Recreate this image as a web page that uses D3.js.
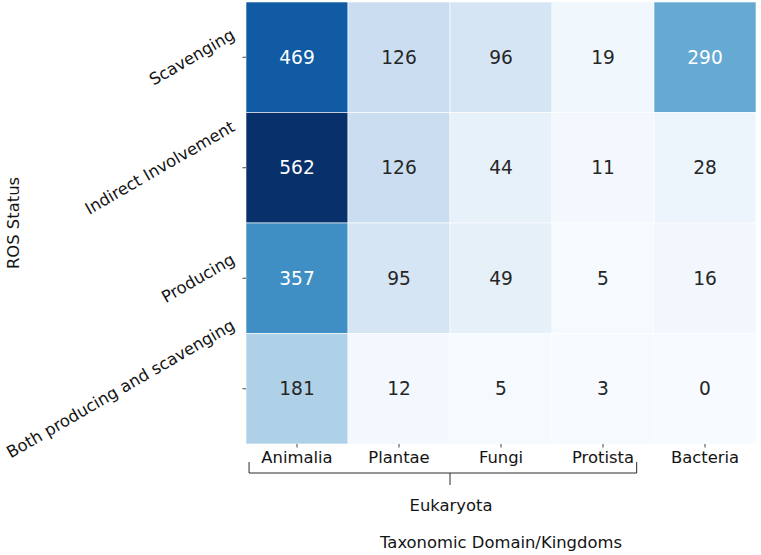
<!DOCTYPE html>
<html>
<head>
<meta charset="utf-8">
<script src="https://cdn.jsdelivr.net/npm/d3@7"></script>
<style>
  html, body { margin: 0; padding: 0; background: #fff; }
  svg { display: block; font-family: "DejaVu Sans", sans-serif; }
</style>
</head>
<body>
<svg id="chart" width="761" height="555"></svg>
<script>
// ---- data ----
const rowLabels = ["Scavenging", "Indirect Involvement", "Producing", "Both producing and scavenging"];
const colLabels = ["Animalia", "Plantae", "Fungi", "Protista", "Bacteria"];
const scavenging = [469, 126, 96, 19, 290];
const indirect   = [562, 126, 44, 11, 28];
const producing  = [357, 95, 49, 5, 16];
const both       = [181, 12, 5, 3, 0];
const seriesRows = [scavenging, indirect, producing, both];
const groupLabel = "Eukaryota";
const groupCols = ["Animalia", "Plantae", "Fungi", "Protista"];
const xTitle = "Taxonomic Domain/Kingdoms";
const yTitle = "ROS Status";

// ---- layout ----
const svg = d3.select("#chart");
const mLeft = 246, mRight = 756, mTop = 2, mBottom = 444;
const ink = "#141414";
const lfs = 16.4;

const x = d3.scaleBand().domain(colLabels).range([mLeft, mRight]).padding(0);
const y = d3.scaleBand().domain(rowLabels).range([mTop, mBottom]).padding(0);
const xLin = d3.scaleLinear().domain([0, colLabels.length]).range([mLeft, mRight]);

// matplotlib "Blues" (linear segments through ColorBrewer stops)
const bluesStops = ["#f7fbff", "#deebf7", "#c6dbef", "#9ecae1", "#6baed6", "#4292c6", "#2171b5", "#08519c", "#08306b"];
const vmax = d3.max(seriesRows.flat());
const color = d3.scaleLinear()
  .domain(bluesStops.map((_, i) => i / (bluesStops.length - 1) * vmax))
  .range(bluesStops)
  .interpolate(d3.interpolateRgb);

function relLum(c) {
  const rgb = d3.rgb(c);
  const f = v => { v /= 255; return v <= 0.03928 ? v / 12.92 : Math.pow((v + 0.055) / 1.055, 2.4); };
  return 0.2126 * f(rgb.r) + 0.7152 * f(rgb.g) + 0.0722 * f(rgb.b);
}

const cells = [];
seriesRows.forEach((vals, ri) => vals.forEach((v, ci) => cells.push({ row: rowLabels[ri], col: colLabels[ci], v })));

svg.append("g").selectAll("rect").data(cells).join("rect")
  .attr("x", d => x(d.col))
  .attr("y", d => y(d.row))
  .attr("width", x.bandwidth())
  .attr("height", y.bandwidth())
  .attr("fill", d => color(d.v))
  .attr("stroke", "#fff")
  .attr("stroke-width", 0.6);

svg.append("g").selectAll("text").data(cells).join("text")
  .attr("x", d => x(d.col) + x.bandwidth() / 2)
  .attr("y", d => y(d.row) + y.bandwidth() / 2)
  .attr("text-anchor", "middle")
  .attr("dominant-baseline", "central")
  .attr("font-size", 18.6)
  .attr("fill", d => relLum(color(d.v)) > 0.408 ? "#262626" : "#ffffff")
  .text(d => d.v);

// ---- x axis ----
const xAxis = svg.append("g").attr("transform", `translate(0,${mBottom})`)
  .call(d3.axisBottom(x).tickSize(3.5).tickPadding(4));
xAxis.select(".domain").remove();
xAxis.selectAll("line").attr("stroke", ink).attr("stroke-width", 0.8);
xAxis.selectAll("text").attr("font-size", lfs).attr("fill", ink).attr("font-family", "DejaVu Sans");

// ---- y axis ----
const yAxis = svg.append("g").attr("transform", `translate(${mLeft},0)`)
  .call(d3.axisLeft(y).tickSize(3.5).tickFormat(""));
yAxis.select(".domain").remove();
yAxis.selectAll("line").attr("stroke", ink).attr("stroke-width", 0.8);

const fh = lfs * 1.16, R = mLeft - 8;
rowLabels.forEach(lbl => {
  const t = svg.append("text")
    .attr("font-size", lfs)
    .attr("fill", ink)
    .attr("text-anchor", "end")
    .attr("dominant-baseline", "central")
    .text(lbl);
  const w = t.node().getComputedTextLength();
  const ax = R - fh / 4;
  const ay = y(lbl) + y.bandwidth() / 2 - 0.25 * w;
  t.attr("transform", `translate(${ax},${ay}) rotate(-30)`);
});

// ---- group bracket ----
const gi0 = colLabels.indexOf(groupCols[0]);
const gi1 = colLabels.indexOf(groupCols[groupCols.length - 1]) + 1;
const bx0 = xLin(gi0 + 0.03), bx1 = xLin(gi1 - 0.17), bmid = xLin(2);
const bTop = 462, bLine = 473, bTick = 485;
const br = svg.append("g").attr("stroke", ink).attr("stroke-width", 0.9).attr("fill", "none");
br.append("path").attr("d", `M${bx0},${bTop}V${bLine}H${bx1}V${bTop}`);
br.append("path").attr("d", `M${bmid},${bLine}V${bTick}`);
svg.append("text").attr("x", bmid + 1).attr("y", 511)
  .attr("text-anchor", "middle").attr("font-size", lfs).attr("fill", ink).text(groupLabel);

// ---- titles ----
svg.append("text").attr("x", (mLeft + mRight) / 2).attr("y", 548)
  .attr("text-anchor", "middle").attr("font-size", lfs).attr("fill", ink).text(xTitle);
svg.append("text").attr("transform", `translate(19,${(mTop + mBottom) / 2}) rotate(-90)`)
  .attr("text-anchor", "middle").attr("font-size", lfs).attr("fill", ink).text(yTitle);
</script>
</body>
</html>
